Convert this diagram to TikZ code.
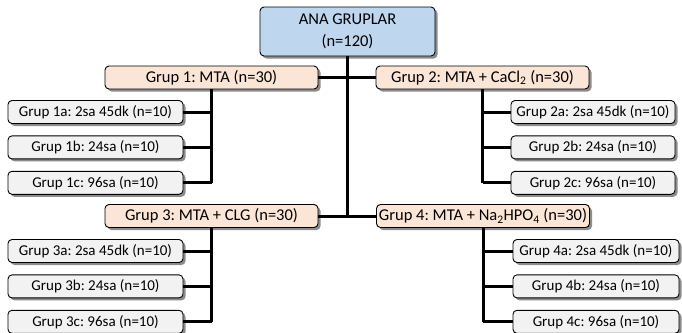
\documentclass[tikz,border=0pt]{standalone}
\usepackage{fontspec}
\setmainfont{Carlito}
\usetikzlibrary{positioning, shadows}
\definecolor{rootblue}{RGB}{190, 214, 238}
\definecolor{grppeach}{RGB}{251, 229, 214}
\definecolor{subgray}{RGB}{242, 242, 242}
\frenchspacing

\begin{document}
\begin{tikzpicture}[
    x=1pt, y=-1pt,
    box/.style={rectangle, draw=black, line width=0.9pt, rounded corners=4pt, inner sep=0pt,
                drop shadow={shadow xshift=2.5pt, shadow yshift=-2.5pt, fill=black, opacity=0.45}},
    rootbox/.style={box, fill=rootblue, minimum width=175pt, minimum height=49pt, align=center,
                    font=\fontsize{16.5}{22}\selectfont},
    grpbox/.style={box, fill=grppeach, minimum width=213pt, minimum height=23pt,
                   font=\fontsize{16.5}{19}\selectfont},
    subbox/.style={box, fill=subgray, minimum height=23pt, font=\fontsize{15}{17}\selectfont},
    link/.style={line width=3pt, black}
]
\useasboundingbox (0,0) rectangle (682,332);

% main group
\node[rootbox] (root) at (347.5,31.5) {ANA GRUPLAR\\(n=120)};

% the four groups
\node[grpbox] (g1) at (211.5,77.5) {Grup 1: MTA (n=30)};
\node[grpbox] (g2) at (482.5,77.5) {Grup 2: MTA + CaCl\textsubscript{2} (n=30)};
\node[grpbox] (g3) at (211.5,216) {Grup 3: MTA + CLG (n=30)};
\node[grpbox] (g4) at (483,216) {Grup 4: MTA + Na\textsubscript{2}HPO\textsubscript{4} (n=30)};

% subgroups, left side
\node[subbox, minimum width=175pt] (g1a) at (95.5,112) {Grup 1a: 2sa 45dk (n=10)};
\node[subbox, minimum width=175pt, below=11.5pt of g1a] (g1b) {Grup 1b: 24sa (n=10)};
\node[subbox, minimum width=175pt, below=11.5pt of g1b] (g1c) {Grup 1c: 96sa (n=10)};
\node[subbox, minimum width=175pt] (g3a) at (95.5,251) {Grup 3a: 2sa 45dk (n=10)};
\node[subbox, minimum width=175pt, below=11.5pt of g3a] (g3b) {Grup 3b: 24sa (n=10)};
\node[subbox, minimum width=175pt, below=11.5pt of g3b] (g3c) {Grup 3c: 96sa (n=10)};

% subgroups, right side
\node[subbox, minimum width=164pt] (g2a) at (593,112) {Grup 2a: 2sa 45dk (n=10)};
\node[subbox, minimum width=164pt, below=11.5pt of g2a] (g2b) {Grup 2b: 24sa (n=10)};
\node[subbox, minimum width=164pt, below=11.5pt of g2b] (g2c) {Grup 2c: 96sa (n=10)};
\node[subbox, minimum width=166pt] (g4a) at (596,251) {Grup 4a: 2sa 45dk (n=10)};
\node[subbox, minimum width=166pt, below=11.5pt of g4a] (g4b) {Grup 4b: 24sa (n=10)};
\node[subbox, minimum width=166pt, below=11.5pt of g4b] (g4c) {Grup 4c: 96sa (n=10)};

% trunk and group bars
\draw[link] (root.south) -- (root.south |- g3.east);
\draw[link] (g1.east) -- (g2.west);
\draw[link] (g3.east) -- (g4.west);

% branches to subgroups
\foreach \g in {1,3} {
    \draw[link] (g\g.south) -- (g\g.south |- g\g c.east);
    \foreach \s in {a,b,c}
        \draw[link] (g\g\s.east) -- (g\g\s.east -| g\g.south);
}
\foreach \g in {2,4} {
    \draw[link] (g\g.south) -- (g\g.south |- g\g c.west);
    \foreach \s in {a,b,c}
        \draw[link] (g\g\s.west) -- (g\g\s.west -| g\g.south);
}

\end{tikzpicture}
\end{document}
